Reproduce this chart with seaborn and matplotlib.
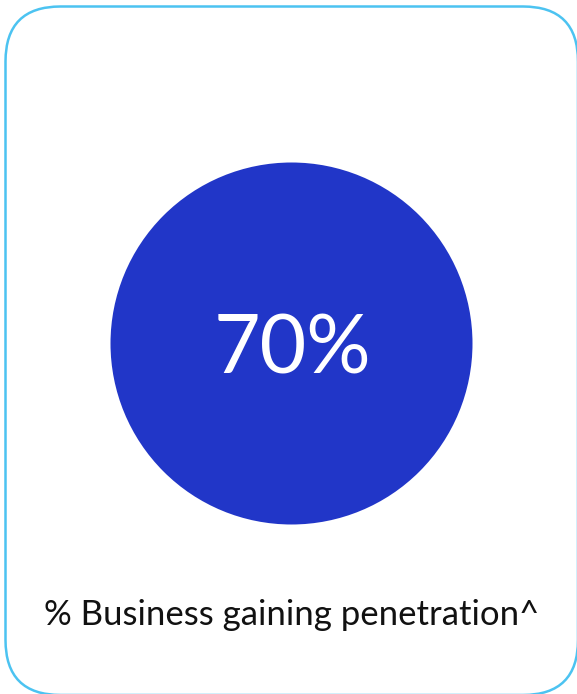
import matplotlib
matplotlib.use("Agg")
import matplotlib.pyplot as plt
from matplotlib.patches import FancyBboxPatch, Circle
import seaborn as sns

# Metric shown on the card
metric_value = [70]
metric_label = ["% Business gaining penetration^"]

sns.set_theme(style="white")
plt.rcParams["font.family"] = ["Lato", "DejaVu Sans"]

W, H = 577, 694
fig = plt.figure(figsize=(W / 100, H / 100), dpi=100)
ax = fig.add_axes([0, 0, 1, 1])
ax.set_xlim(0, W)
ax.set_ylim(H, 0)
ax.set_axis_off()

# Card outline with rounded corners (runs off the right and bottom edges)
card = FancyBboxPatch((5.5, 6.5), 572.5, 688.5, boxstyle="round,pad=0,rounding_size=55",
                      facecolor="white", edgecolor="#4CC3F1", linewidth=1.8,
                      clip_on=False)
ax.add_patch(card)

# Filled disc holding the value
disc = Circle((291.5, 343.5), 181, facecolor="#2136C8", edgecolor="none")
ax.add_patch(disc)

ax.text(292, 350, f"{metric_value[0]}%", ha="center", va="center",
        color="white", fontsize=58)

ax.text(292, 615, metric_label[0], ha="center", va="center",
        color="#111111", fontsize=25)

fig.savefig("out.png", dpi=100)
